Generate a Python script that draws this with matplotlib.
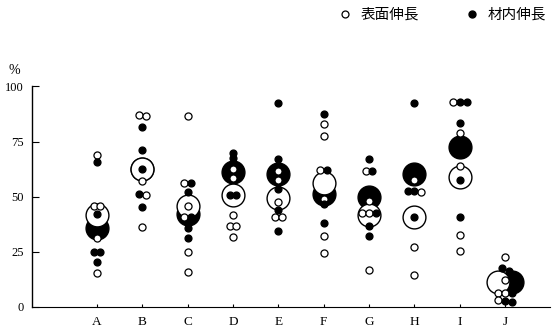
import matplotlib
matplotlib.use("Agg")
import matplotlib.pyplot as plt
from matplotlib.lines import Line2D

# データ (%)
groups = ["A", "B", "C", "D", "E", "F", "G", "H", "I", "J"]

# 表面伸長 (open)
open_A = [68.9, 45.7, 45.7, 31.0, 15.4]
open_B = [87.0, 86.4, 57.0, 50.7, 36.0]
open_C = [86.6, 56.3, 45.7, 40.8, 24.6, 15.8]
open_D = [62.4, 58.3, 41.6, 36.7, 36.7, 31.7]
open_E = [61.7, 57.5, 47.6, 40.8, 40.8]
open_F = [82.8, 77.5, 62.0, 48.7, 32.0, 24.2]
open_G = [61.7, 48.1, 42.4, 42.4, 16.6]
open_H = [57.5, 52.2, 26.9, 14.3]
open_I = [93.0, 78.7, 63.9, 32.5, 25.4]
open_J = [22.6, 12.0, 6.3, 6.3, 3.0]

# 材内伸長 (filled)
fill_A = [65.8, 41.9, 24.9, 24.9, 20.4]
fill_B = [81.7, 71.1, 62.4, 51.1, 45.1]
fill_C = [56.3, 52.2, 40.8, 35.8, 31.0]
fill_D = [69.6, 67.4, 50.7, 50.7]
fill_E = [92.3, 66.9, 53.3, 43.9, 34.3]
fill_F = [87.5, 62.0, 46.6, 37.8]
fill_G = [66.9, 61.7, 42.4, 36.7, 32.0]
fill_H = [92.6, 52.5, 52.5, 40.5]
fill_I = [93.0, 93.0, 83.3, 57.5, 40.5]
fill_J = [17.4, 16.3, 6.0, 2.2, 2.5]

# 平均 (large circles)
mean_open = [41.6, 62.4, 45.7, 50.7, 49.2, 56.0, 41.6, 40.8, 59.0, 11.3]
mean_fill = [35.5, 62.4, 42.0, 61.3, 60.2, 51.0, 49.6, 60.2, 72.6, 11.3]

opens = [open_A, open_B, open_C, open_D, open_E, open_F, open_G, open_H, open_I, open_J]
fills = [fill_A, fill_B, fill_C, fill_D, fill_E, fill_F, fill_G, fill_H, fill_I, fill_J]

# layout
big_shift = [0, 0, 0, 0, 0, 0, 0, 0, 0, 0.15]
step = 0.15

fig = plt.figure(figsize=(5.54, 3.32), dpi=100)
ax = fig.add_axes([32 / 554, 1 - 306.5 / 332, 518 / 554, 220 / 332])

serif = "Liberation Serif"

for i in range(len(groups)):
    # large circles: filled behind, open on top
    ax.scatter(i + big_shift[i], mean_fill[i], s=270, c="black", zorder=2, clip_on=False)
    ax.scatter(i - big_shift[i], mean_open[i], s=270, facecolors="white", edgecolors="black",
               linewidths=1.0, zorder=3, clip_on=False)

    # small points, spread sideways when values are close
    pts = [(v, "o") for v in opens[i]] + [(v, "f") for v in fills[i]]
    pts.sort(key=lambda p: -p[0])
    clusters = []
    for p in pts:
        if clusters and abs(clusters[-1][-1][0] - p[0]) < 2.0:
            clusters[-1].append(p)
        else:
            clusters.append([p])
    for cl in clusters:
        n = len(cl)
        for k, (v, kind) in enumerate(cl):
            x = i + (k - (n - 1) / 2) * step
            if kind == "o":
                ax.scatter(x, v, s=26, facecolors="white", edgecolors="black",
                           linewidths=0.9, zorder=4, clip_on=False)
            else:
                ax.scatter(x, v, s=24, c="black", zorder=5, clip_on=False)

ax.set_xlim(-1.435, 9.99)
ax.set_ylim(0, 100)
ax.spines["top"].set_visible(False)
ax.spines["right"].set_visible(False)
ax.spines["left"].set_linewidth(1.0)
ax.spines["bottom"].set_linewidth(0.8)

ax.set_yticks([0, 25, 50, 75, 100])
ax.set_yticklabels(["0", "25", "50", "75", "100"], fontfamily=serif, fontsize=9)
ax.set_xticks(range(len(groups)))
ax.set_xticklabels(groups, fontfamily=serif, fontsize=9.5)
ax.tick_params(axis="y", direction="in", length=5, width=0.8, pad=6)
ax.tick_params(axis="x", direction="in", length=2, width=0.8, pad=7)

fig.text(14 / 554, 1 - 71 / 332, "%", fontfamily=serif, fontsize=10, ha="center", va="center")

handles = [
    Line2D([], [], marker="o", linestyle="none", markerfacecolor="white",
           markeredgecolor="black", markersize=5, markeredgewidth=0.9),
    Line2D([], [], marker="o", linestyle="none", color="black", markersize=5),
]
fig.legend(handles, ["表面伸長", "材内伸長"], ncol=2, frameon=False,
           loc="center right", bbox_to_anchor=(1.01, 1 - 15 / 332),
           prop={"family": ["Noto Sans CJK JP", "DejaVu Sans"], "size": 10.5},
           handletextpad=0.5, columnspacing=3.0, handlelength=1.2)

fig.savefig("out.png", dpi=100)
